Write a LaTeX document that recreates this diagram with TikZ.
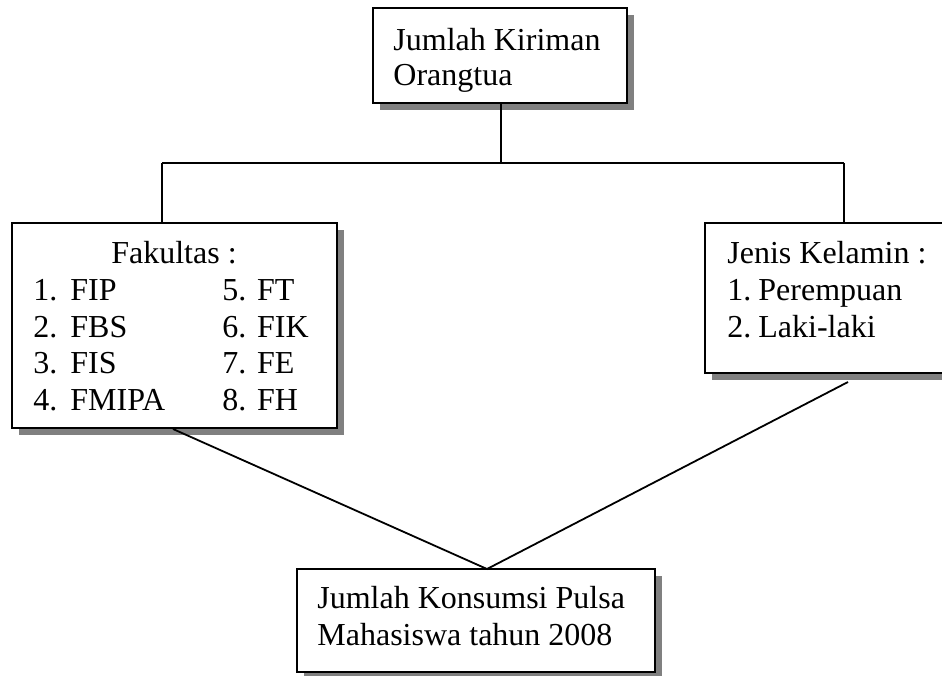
\documentclass[tikz,border=0pt]{standalone}
\usepackage{fontspec}
\setmainfont{Liberation Serif}
\usetikzlibrary{shadows}
\tikzset{
  box/.style={draw=black, line width=1pt, fill=white, rectangle, inner sep=0pt,
    drop shadow={shadow xshift=3.5pt, shadow yshift=-3.5pt, fill=black!50, opacity=1}},
  txt/.style={anchor=base west, inner sep=0pt, font=\fontsize{16}{18}\selectfont},
  ctxt/.style={anchor=base, inner sep=0pt, font=\fontsize{16}{18}\selectfont},
  conn/.style={draw=black, line width=0.9pt}
}
\begin{document}
\begin{tikzpicture}[x=0.5pt,y=-0.5pt]
\useasboundingbox (0,0) rectangle (942,675);
\clip (0,0) rectangle (942,675);
% boxes
\node[box, minimum width=127pt, minimum height=47.5pt] (top) at (500,55.5) {};
\node[box, minimum width=162.5pt, minimum height=102.5pt] (left) at (174.5,325.5) {};
\node[box, minimum width=135pt, minimum height=75pt] (right) at (840,298) {};
\node[box, minimum width=179pt, minimum height=51.5pt] (bottom) at (476,620.5) {};
% connectors
\coordinate (jl) at (162,163);
\coordinate (jr) at (844,163);
\coordinate (ls) at (173,429);
\coordinate (rs) at (848,382);
\coordinate (apex) at (487,569);
\draw[conn] (top.south -| 501,0) -- (501,163);
\draw[conn] (jl) -- (jr);
\draw[conn] (jl) -- (jl |- left.north);
\draw[conn] (jr) -- (jr |- right.north);
\draw[conn] (ls) -- (apex) -- (rs);
% texts top
\node[txt] (t1) at (393,50) {Jumlah Kiriman};
\node[txt] (t2) at (393,85) {Orangtua};
% left
\node[ctxt] (fak) at (174,263) {Fakultas :};
\node[txt] (n1) at (33,300) {1.};
\node[txt] (f1) at (70,300) {FIP};
\node[txt] (n2) at (33,337) {2.};
\node[txt] (f2) at (70,337) {FBS};
\node[txt] (n3) at (33,373) {3.};
\node[txt] (f3) at (70,373) {FIS};
\node[txt] (n4) at (33,410) {4.};
\node[txt] (f4) at (70,410) {FMIPA};
\node[txt] (f5) at (222,300) {5. FT};
\node[txt] (f6) at (222,337) {6. FIK};
\node[txt] (f7) at (222,373) {7. FE};
\node[txt] (f8) at (222,410) {8. FH};
% right
\node[txt] (jk) at (727,263) {Jenis Kelamin :};
\node[txt] (m1) at (727,300) {1.};
\node[txt] (g1) at (758,300) {Perempuan};
\node[txt] (m2) at (727,337) {2.};
\node[txt] (g2) at (758,337) {Laki-laki};
% bottom
\node[txt] (b1) at (317,608) {Jumlah Konsumsi Pulsa};
\node[txt] (b2) at (317,645) {Mahasiswa tahun 2008};
\end{tikzpicture}
\end{document}
